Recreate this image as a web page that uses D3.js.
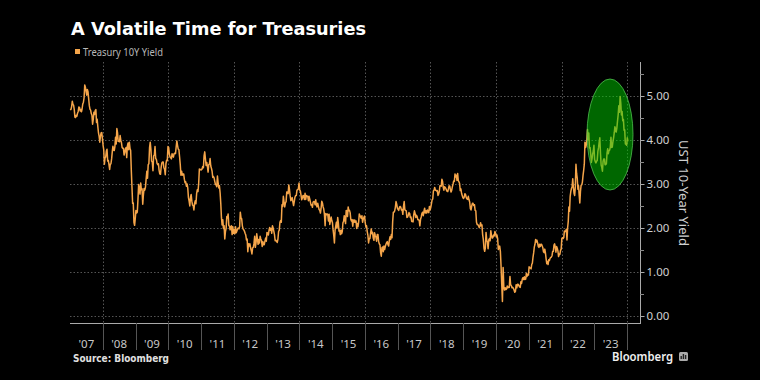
<!DOCTYPE html>
<html><head><meta charset="utf-8">
<script src="https://cdn.jsdelivr.net/npm/d3@7"></script>
<style>
html,body{margin:0;padding:0;background:#000;}
svg{display:block;}
</style></head>
<body>
<svg id="c" width="760" height="380"></svg>
<script>
// Weekly-ish US 10Y Treasury yield
const y2007 = [4.68,4.70,4.76,4.88, 4.81,4.79,4.69,4.52, 4.51,4.56,4.54,4.61,4.65, 4.75,4.74,4.66,4.69, 4.64,4.71,4.82,4.86, 4.96,5.25,5.20,5.11,5.02, 5.15,5.10,4.94,4.78, 4.70,4.68,4.60,4.56, 4.36,4.47,4.63,4.58, 4.67,4.69,4.40,4.47,4.30, 4.16,4.08,3.95, 4.08,4.16,4.17,4.03];
const y2008 = [3.88,3.78,3.45,3.59, 3.61,3.75,3.79,3.52, 3.54,3.44,3.33,3.45, 3.46,3.57,3.73,3.86, 3.77,3.76,3.85,4.06, 3.91,4.26,4.17,3.97, 3.97,3.96,4.10,3.99, 3.94,3.83,3.81,3.81, 3.66,3.72,3.80,3.83, 3.60,3.86,3.93,3.78,3.95, 3.81,3.76,3.31,2.93, 2.56,2.57,2.13,2.06,2.21];
const y2009 = [2.40,2.34,2.36,2.65, 2.99,2.89,2.77,3.02, 2.87,2.89,2.54,2.76, 2.90,2.86,2.93,3.12, 3.29,3.13,3.44,3.46, 3.83,3.95,3.78,3.52, 3.50,3.30,3.64,3.66, 3.85,3.58,3.56,3.47, 3.44,3.46,3.31,3.23, 3.22,3.38,3.48,3.50, 3.50,3.37,3.34,3.21, 3.46,3.54,3.53,3.85];
const y2010 = [3.83,3.68,3.61,3.60, 3.57,3.69,3.64,3.61, 3.69,3.70,3.69,3.84, 3.98,3.88,3.79,3.78, 3.62,3.44,3.20,3.29, 3.20,3.23,3.23,3.11, 3.03,3.05,2.95,3.00, 2.91,2.69,2.61,2.50, 2.70,2.76,2.61,2.52, 2.51,2.41,2.56,2.62, 2.55,2.78,2.87,2.83, 3.01,3.34,3.32,3.33];
const y2011 = [3.32,3.34,3.40,3.37, 3.64,3.73,3.58,3.42, 3.49,3.40,3.27,3.44, 3.45,3.58,3.41,3.36,3.29, 3.15,3.17,3.14,3.06, 2.99,2.98,2.94,3.18, 3.03,2.91,2.96,2.80, 2.56,2.24,2.07,2.19, 1.99,2.05,1.75,1.92, 1.99,2.26,2.23,2.32, 2.06,2.04,1.96,2.03, 2.05,1.85,2.03,1.88];
const y2012 = [1.96,1.87,2.03,1.89, 1.93,1.98,2.00,1.98, 2.03,2.36,2.23,2.21, 2.05,1.98,1.96,1.93, 1.88,1.84,1.73,1.75, 1.46,1.64,1.59,1.64, 1.55,1.49,1.41,1.55, 1.56,1.65,1.81,1.56, 1.66,1.87,1.75,1.63, 1.74,1.66,1.81,1.75, 1.72,1.58,1.69,1.62, 1.62,1.70,1.77,1.70];
const y2013 = [1.90,1.88,1.84,1.95, 2.01,1.95,1.99,1.88, 2.05,2.00,1.93,1.85, 1.71,1.72,1.70,1.67, 1.74,1.92,1.95,2.13, 2.17,2.13,2.53,2.49, 2.72,2.59,2.48,2.57, 2.60,2.82,2.81,2.78, 2.98,2.87,2.73,2.62, 2.65,2.69,2.59,2.51, 2.60,2.70,2.74,2.74, 2.86,2.87,2.89,3.02];
const y2014 = [2.86,2.84,2.74,2.64, 2.68,2.74,2.73,2.65, 2.79,2.65,2.74,2.72, 2.72,2.62,2.72,2.66, 2.59,2.52,2.53,2.47, 2.59,2.60,2.60,2.53, 2.64,2.52,2.48,2.56, 2.49,2.42,2.40,2.34, 2.45,2.61,2.57,2.48, 2.43,2.31,2.05,2.33, 2.30,2.32,2.31,2.16, 2.31,2.08,2.16,2.25,2.17];
const y2015 = [2.12,1.95,1.83,1.66, 1.95,2.04,2.13,2.00, 2.24,2.11,1.93,1.95, 1.85,1.95,1.87,1.92,2.12, 2.15,2.28,2.21,2.10, 2.40,2.39,2.26,2.48, 2.39,2.40,2.35,2.20, 2.16,2.19,2.04,2.18, 2.13,2.18,2.13,2.16, 1.99,2.10,2.03,2.14, 2.32,2.28,2.25,2.22, 2.28,2.13,2.20,2.24,2.27];
const y2016 = [2.12,2.03,2.05,1.92, 1.84,1.66,1.76,1.76, 1.88,1.98,1.87,1.90, 1.77,1.72,1.89,1.83, 1.79,1.70,1.85,1.85, 1.70,1.64,1.62,1.44, 1.36,1.55,1.57,1.46, 1.59,1.51,1.58,1.63, 1.67,1.69,1.62,1.59, 1.72,1.80,1.74,1.85, 1.78,2.15,2.36,2.36, 2.39,2.47,2.60,2.54,2.45];
const y2017 = [2.42,2.40,2.47,2.49, 2.47,2.41,2.42,2.31, 2.49,2.60,2.41,2.40, 2.39,2.24,2.25,2.29, 2.35,2.33,2.24,2.25, 2.15,2.15,2.14,2.30, 2.39,2.33,2.24,2.29, 2.26,2.19,2.19,2.17, 2.05,2.20,2.25,2.33, 2.36,2.28,2.38,2.45, 2.34,2.39,2.34,2.41, 2.37,2.35,2.49,2.41];
const y2018 = [2.47,2.55,2.64,2.66, 2.84,2.86,2.92,2.86, 2.86,2.84,2.85,2.74, 2.77,2.83,2.96,2.96, 2.95,3.11,3.06,2.93,2.86, 2.94,2.92,2.90,2.86, 2.83,2.83,2.89,2.96, 2.95,2.87,2.82,2.86, 2.94,3.00,3.07,3.06, 3.23,3.16,3.20,3.08, 3.24,3.08,3.05,3.01, 2.85,2.89,2.79,2.74,2.69];
const y2019 = [2.67,2.70,2.78,2.76, 2.69,2.66,2.65,2.72, 2.64,2.59,2.44,2.41, 2.50,2.56,2.56,2.51, 2.53,2.40,2.39,2.13, 2.08,2.08,2.05,2.01, 2.04,2.12,2.05,2.07, 1.85,1.74,1.54,1.47, 1.55,1.90,1.72,1.68, 1.53,1.73,1.76,1.71, 1.94,1.83,1.77,1.78, 1.84,1.82,1.92,1.88];
const y2020 = [1.80,1.84,1.76,1.51, 1.58,1.59,1.47,1.13, 0.71,0.33,1.10,0.67, 0.59,0.64,0.60,0.61, 0.68,0.64,0.66,0.65, 0.90,0.71,0.69,0.64, 0.65,0.63,0.59,0.54, 0.56,0.71,0.64,0.72, 0.72,0.69,0.66,0.65, 0.78,0.74,0.84,0.87, 0.83,0.89,0.83,0.84, 0.97,0.90,0.95,0.93];
const y2021 = [1.12,1.09,1.09,1.07, 1.17,1.20,1.34,1.44, 1.57,1.63,1.74,1.68, 1.72,1.66,1.58,1.56,1.63, 1.58,1.63,1.63,1.59, 1.55,1.46,1.44,1.52, 1.43,1.30,1.19,1.24, 1.17,1.28,1.26,1.31, 1.33,1.34,1.37,1.47, 1.47,1.61,1.64,1.56, 1.45,1.58,1.54,1.48, 1.35,1.41,1.40,1.49,1.52];
const y2022 = [1.76,1.78,1.76,1.78, 1.93,1.92,1.93,1.97, 1.73,2.00,2.15,2.48, 2.38,2.72,2.83,2.90, 2.94,3.12,2.92,2.79,2.74, 2.94,3.45,3.24,3.13, 2.88,2.96,2.75,2.57, 2.83,2.97,2.98,3.04, 3.19,3.31,3.45,3.95,3.83, 3.88,4.00,4.24,4.01, 4.16,3.82,3.83,3.68, 3.49,3.57,3.68,3.75,3.88];
const y2023 = [3.56,3.51,3.48,3.52, 3.53,3.74,3.82,3.95, 4.05,3.70,3.43,3.38, 3.29,3.52,3.57,3.57,3.44, 3.44,3.46,3.70,3.80, 3.69,3.76,3.77,3.84, 4.06,3.83,3.84,3.96, 4.05,4.16,4.30,4.25, 4.18,4.27,4.43,4.57, 4.78,4.63,4.99,4.84, 4.57,4.65,4.44,4.47, 4.22,4.23,3.91,3.90,3.88];
const y2024 = [4.05,3.97];
const yearArrays = [
  [2007,y2007],[2008,y2008],[2009,y2009],[2010,y2010],[2011,y2011],[2012,y2012],
  [2013,y2013],[2014,y2014],[2015,y2015],[2016,y2016],[2017,y2017],[2018,y2018],
  [2019,y2019],[2020,y2020],[2021,y2021],[2022,y2022],[2023,y2023]
];
const yTicks = [0,1,2,3,4,5];
const yearLabels = ["'07","'08","'09","'10","'11","'12","'13","'14","'15","'16","'17","'18","'19","'20","'21","'22","'23"];
const seriesName = "Treasury 10Y Yield";
const title = "A Volatile Time for Treasuries";
const axisTitle = "UST 10-Year Yield";

// Build dated series
const data = [];
yearArrays.forEach(([yr, arr]) => {
  const t0 = +new Date(yr,0,1), t1 = +new Date(yr+1,0,1);
  arr.forEach((v,i) => data.push({d: new Date(t0 + (i+0.5)/arr.length*(t1-t0)), v}));
});
{
  const t0 = +new Date(2024,0,1);
  y2024.forEach((v,i) => data.push({d: new Date(t0 + (i+0.5)*7*86400000), v}));
}

const svg = d3.select("#c");
const pL = 70, pR = 640, pT = 62, pB = 323;
const x = d3.scaleTime().domain([new Date(2007,0,1), new Date(2024,0,1)]).range([pL, 627]);
const y = d3.scaleLinear().domain([0,5]).range([316, 96]);

svg.append("rect").attr("width",760).attr("height",380).attr("fill","#000");

// Title
svg.append("text").attr("x",71).attr("y",35).attr("fill","#fff")
  .attr("font-family","DejaVu Sans, Verdana, sans-serif").attr("font-weight","bold")
  .attr("font-size",17.5).attr("textLength",295).attr("lengthAdjust","spacingAndGlyphs").text(title);
// Legend
svg.append("rect").attr("x",75).attr("y",49).attr("width",5).attr("height",5).attr("fill","#f5a54a");
svg.append("text").attr("x",83).attr("y",55.5).attr("fill","#b8b8b8")
  .attr("font-family","Noto Sans, sans-serif").attr("font-size",10.5)
  .attr("textLength",80).attr("lengthAdjust","spacingAndGlyphs").text(seriesName);

// Grid
const gridYears = d3.range(2008, 2025, 2).map(yy => new Date(yy,0,1));
svg.append("g").selectAll("line").data(gridYears).join("line")
  .attr("x1",d=>Math.round(x(d))+0.5).attr("x2",d=>Math.round(x(d))+0.5).attr("y1",pT).attr("y2",pB)
  .attr("stroke","#555").attr("stroke-width",1).attr("stroke-dasharray","1.5,2");
svg.append("g").selectAll("line").data(yTicks).join("line")
  .attr("x1",pL).attr("x2",pR).attr("y1",d=>Math.round(y(d))+0.5).attr("y2",d=>Math.round(y(d))+0.5)
  .attr("stroke","#555").attr("stroke-width",1).attr("stroke-dasharray","1.5,2");

// Line
const line = d3.line().x(d=>x(d.d)).y(d=>y(d.v)).curve(d3.curveLinear);
svg.append("path").datum(data).attr("d",line).attr("fill","none")
  .attr("stroke","#f5a54a").attr("stroke-width",1.5).attr("stroke-linejoin","round");

// Highlight ellipse
svg.append("ellipse").attr("cx",610).attr("cy",134.5).attr("rx",23).attr("ry",55.5)
  .attr("fill","rgba(0,205,0,0.5)").attr("stroke","rgba(90,210,90,0.7)").attr("stroke-width",1);

// Bottom axis
svg.append("line").attr("x1",pL).attr("x2",pR).attr("y1",pB+0.5).attr("y2",pB+0.5)
  .attr("stroke","#aaa").attr("stroke-width",1);
const sepYears = d3.range(2008, 2025).map(yy => new Date(yy,0,1));
svg.append("g").selectAll("line").data(sepYears).join("line")
  .attr("x1",d=>Math.round(x(d))+0.5).attr("x2",d=>Math.round(x(d))+0.5).attr("y1",pB).attr("y2",350)
  .attr("stroke","#555").attr("stroke-width",1);
svg.append("g").selectAll("text").data(yearLabels).join("text")
  .attr("x",(d,i)=>(x(new Date(2007+i,0,1))+x(new Date(2008+i,0,1)))/2)
  .attr("y",348).attr("text-anchor","middle").attr("fill","#c8c8c8")
  .attr("font-family","Noto Sans, sans-serif").attr("font-size",11.5).text(d=>d);

// Right axis
const yAxis = d3.axisRight(y).tickValues(yTicks).tickFormat(d3.format(".2f")).tickSize(4).tickPadding(2);
const ga = svg.append("g").attr("transform",`translate(${pR+0.5},0)`).call(yAxis);
ga.select(".domain").remove();
ga.selectAll(".tick line").attr("stroke","#aaa");
ga.selectAll(".tick text").attr("fill","#d0d0d0").attr("font-family","Noto Sans, sans-serif").attr("font-size",11.5);
svg.append("line").attr("x1",pR+0.5).attr("x2",pR+0.5).attr("y1",pT).attr("y2",pB+1)
  .attr("stroke","#aaa").attr("stroke-width",1);
const minor = d3.range(0.5, 6, 1);
svg.append("g").selectAll("line").data(minor).join("line")
  .attr("x1",pR).attr("x2",pR+4).attr("y1",d=>Math.round(y(d))+0.5).attr("y2",d=>Math.round(y(d))+0.5)
  .attr("stroke","#888");

svg.append("text").attr("transform","translate(679,193) rotate(90)").attr("text-anchor","middle")
  .attr("fill","#d0d0d0").attr("font-family","Noto Sans, sans-serif").attr("font-size",13).text(axisTitle);

// Footer
svg.append("text").attr("x",73).attr("y",362).attr("fill","#e0e0e0")
  .attr("font-family","DejaVu Sans, sans-serif").attr("font-weight","bold").attr("font-size",10)
  .attr("textLength",96).attr("lengthAdjust","spacingAndGlyphs").text("Source: Bloomberg");
svg.append("text").attr("x",612).attr("y",361).attr("fill","#f0f0f0")
  .attr("font-family","Noto Sans, sans-serif").attr("font-weight","600").attr("font-size",12.5)
  .attr("textLength",61).attr("lengthAdjust","spacingAndGlyphs").text("Bloomberg");
svg.append("rect").attr("x",679).attr("y",352).attr("width",9).attr("height",9).attr("rx",1.5).attr("fill","#aaa");
svg.append("g").selectAll("rect").data([3,5,4]).join("rect")
  .attr("x",(d,i)=>680.5+i*2.2).attr("y",d=>359-d).attr("width",1.4).attr("height",d=>d).attr("fill","#222");
</script>
</body></html>
